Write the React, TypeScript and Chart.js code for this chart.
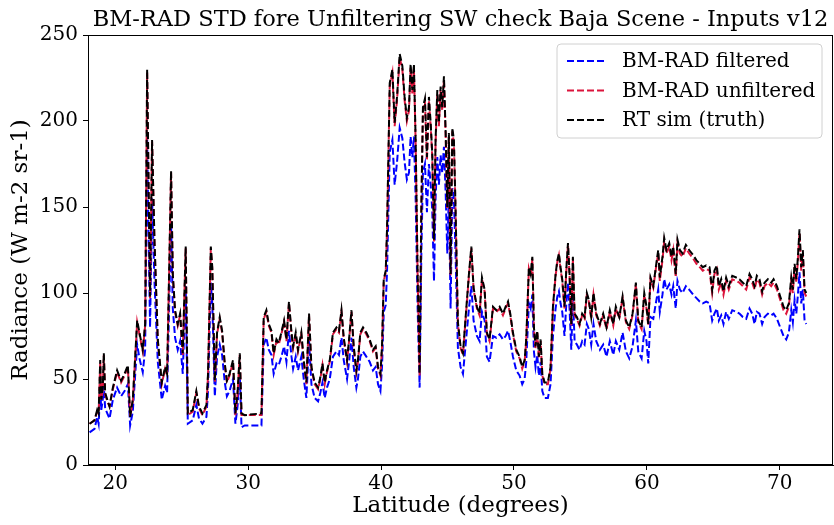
import React, { useEffect, useRef } from "react";
import { Chart, registerables } from "chart.js";

Chart.register(...registerables);

const titleText = "BM-RAD STD fore Unfiltering SW check Baja Scene - Inputs v12";
const xAxisLabel = "Latitude (degrees)";
const yAxisLabel = "Radiance (W m-2 sr-1)";
const seriesNames = ["BM-RAD filtered", "BM-RAD unfiltered", "RT sim (truth)"];
const seriesColors = ["#0000ff", "#dc143c", "#000000"];
const xTicks = [20, 30, 40, 50, 60, 70];
const yTicks = [0, 50, 100, 150, 200, 250];

const latitude = [
  18.07, 18.44, 18.64, 18.75, 18.87, 18.95, 19.06, 19.14, 19.24, 19.40,
  19.57, 19.82, 20.14, 20.44, 20.70, 20.95, 21.12, 21.32, 21.65, 21.82,
  22.07, 22.25, 22.40, 22.53, 22.62, 22.77, 22.95, 23.20, 23.50, 23.75,
  23.90, 24.05, 24.20, 24.33, 24.50, 24.70, 24.88, 25.08, 25.30, 25.46,
  25.83, 26.10, 26.30, 26.56, 26.86, 26.98, 27.19, 27.30, 27.49, 27.66,
  27.86, 28.04, 28.24, 28.40, 28.60, 28.86, 29.04, 29.20, 29.37, 29.50,
  29.74, 31.00, 31.17, 31.37, 31.55, 31.75, 31.92, 32.13, 32.30, 32.50,
  32.70, 32.88, 33.07, 33.26, 33.38, 33.58, 33.75, 34.00, 34.18, 34.38,
  34.58, 34.76, 35.00, 35.26, 35.43, 35.59, 35.76, 35.93, 36.14, 36.38,
  36.64, 36.83, 37.02, 37.19, 37.44, 37.59, 37.77, 37.94, 38.14, 38.26,
  38.44, 38.64, 38.89, 39.14, 39.39, 39.59, 39.77, 39.95, 40.07, 40.20,
  40.35, 40.45, 40.55, 40.65, 40.85, 41.02, 41.20, 41.40, 41.60, 41.77,
  41.94, 42.10, 42.22, 42.35, 42.47, 42.60, 42.75, 42.90, 43.03, 43.15,
  43.30, 43.45, 43.60, 43.73, 43.85, 43.98, 44.10, 44.23, 44.35, 44.48,
  44.60, 44.73, 44.86, 44.98, 45.10, 45.23, 45.36, 45.48, 45.60, 45.78,
  45.98, 46.16, 46.42, 46.61, 46.79, 46.96, 47.21, 47.41, 47.59, 47.79,
  47.96, 48.16, 48.42, 48.67, 48.92, 49.17, 49.37, 49.55, 49.72, 49.92,
  50.17, 50.42, 50.62, 50.80, 50.92, 51.12, 51.25, 51.38, 51.50, 51.62,
  51.75, 51.87, 52.00, 52.13, 52.30, 52.55, 52.75, 52.93, 53.13, 53.26,
  53.38, 53.50, 53.63, 53.80, 53.93, 54.06, 54.18, 54.31, 54.43, 54.56,
  54.73, 54.93, 55.13, 55.31, 55.48, 55.63, 55.81, 55.98, 56.19, 56.46,
  56.71, 56.96, 57.21, 57.47, 57.66, 57.92, 58.17, 58.42, 58.67, 58.92,
  59.17, 59.35, 59.60, 59.80, 59.97, 60.10, 60.27, 60.48, 60.67, 60.85,
  60.97, 61.17, 61.30, 61.47, 61.68, 61.85, 61.98, 62.17, 62.30, 62.48,
  62.68, 62.93, 63.18, 63.48, 63.73, 63.98, 64.20, 64.46, 64.71, 64.91,
  65.08, 65.26, 65.41, 65.59, 65.76, 65.96, 66.16, 66.42, 66.72, 66.96,
  67.22, 67.47, 67.72, 67.92, 68.10, 68.27, 68.47, 68.67, 68.85, 69.10,
  69.35, 69.53, 69.78, 70.03, 70.28, 70.48, 70.68, 70.86, 70.98, 71.11,
  71.24, 71.36, 71.48, 71.61, 71.73, 71.86, 71.99,
];

const bmradFiltered = [
  19, 21, 28, 24, 44, 32, 38, 46, 33, 30,
  27, 38, 45, 40, 43, 47, 23, 31, 70, 62,
  54, 67, 190, 122, 80, 155, 107, 60, 38, 46,
  42, 90, 140, 91, 74, 67, 72, 53, 104, 24,
  26, 35, 27, 24, 28, 43, 106, 94, 40, 63,
  70, 64, 48, 40, 43, 50, 24, 34, 53, 22,
  23, 23, 70, 74, 67, 64, 53, 59, 58, 63,
  69, 60, 78, 63, 56, 63, 55, 63, 50, 39,
  72, 47, 39, 37, 42, 48, 39, 45, 50, 63,
  66, 64, 74, 61, 50, 60, 74, 57, 45, 50,
  63, 66, 63, 60, 55, 57, 47, 43, 57, 89,
  93, 113, 147, 182, 189, 163, 176, 196, 190, 176,
  166, 170, 191, 179, 191, 155, 91, 45, 123, 170,
  175, 147, 175, 163, 148, 107, 155, 179, 163, 180,
  170, 185, 158, 123, 158, 91, 161, 155, 123, 68,
  57, 53, 75, 91, 104, 84, 75, 72, 89, 84,
  63, 60, 75, 74, 76, 73, 75, 78, 72, 63,
  55, 52, 47, 50, 60, 94, 91, 99, 66, 57,
  64, 52, 60, 43, 39, 39, 47, 75, 91, 98,
  101, 94, 89, 75, 93, 106, 91, 67, 99, 72,
  70, 67, 72, 70, 82, 79, 70, 82, 72, 67,
  70, 63, 72, 64, 72, 67, 77, 66, 62, 69,
  84, 66, 62, 78, 72, 59, 86, 85, 94, 102,
  89, 99, 108, 102, 105, 99, 104, 91, 107, 102,
  100, 104, 102, 99, 97, 95, 94, 95, 94, 84,
  88, 91, 84, 87, 82, 89, 85, 90, 89, 88,
  86, 85, 91, 88, 82, 89, 88, 82, 86, 88,
  87, 88, 85, 80, 75, 73, 77, 90, 83, 96,
  88, 99, 112, 94, 102, 84, 82,
];

const bmradUnfiltered = [
  24, 26, 31, 30, 60, 38, 44, 64, 41, 37,
  34, 44, 54, 48, 52, 57, 28, 37, 83, 76,
  66, 81, 228, 149, 97, 188, 130, 72, 47, 56,
  52, 110, 170, 110, 89, 81, 87, 64, 126, 29,
  31, 42, 33, 29, 34, 52, 126, 114, 48, 76,
  85, 77, 58, 48, 52, 60, 29, 41, 64, 29,
  29, 29, 85, 89, 81, 77, 64, 72, 70, 76,
  83, 72, 94, 76, 68, 76, 66, 76, 60, 47,
  87, 56, 47, 44, 50, 58, 47, 54, 60, 76,
  79, 77, 89, 73, 60, 72, 89, 68, 54, 60,
  76, 79, 76, 72, 66, 68, 56, 52, 68, 107,
  112, 137, 178, 220, 228, 197, 212, 237, 230, 212,
  200, 206, 231, 216, 231, 187, 110, 52, 149, 206,
  211, 177, 212, 197, 179, 130, 187, 216, 197, 218,
  206, 224, 191, 149, 191, 110, 194, 187, 149, 82,
  68, 64, 91, 110, 126, 102, 91, 87, 108, 101,
  76, 72, 91, 89, 91, 87, 91, 94, 87, 76,
  66, 62, 56, 60, 72, 114, 110, 120, 79, 68,
  77, 62, 72, 52, 47, 47, 56, 91, 110, 118,
  122, 114, 107, 91, 112, 128, 110, 81, 120, 87,
  85, 81, 87, 85, 99, 95, 85, 99, 87, 81,
  87, 79, 89, 81, 91, 85, 97, 83, 79, 87,
  105, 83, 79, 99, 91, 81, 108, 103, 114, 123,
  107, 119, 130, 123, 127, 119, 125, 109, 129, 123,
  121, 126, 123, 120, 117, 115, 113, 114, 113, 100,
  111, 114, 102, 106, 99, 107, 102, 108, 107, 106,
  104, 102, 109, 106, 102, 108, 106, 99, 104, 106,
  104, 106, 102, 96, 90, 88, 92, 107, 100, 115,
  106, 119, 135, 113, 123, 100, 98,
];

const rtSimTruth = [
  24, 26, 32, 30, 61, 38, 45, 65, 42, 38,
  34, 45, 55, 49, 53, 58, 28, 38, 84, 77,
  67, 82, 230, 150, 98, 189, 131, 73, 48, 57,
  53, 111, 171, 111, 90, 82, 88, 65, 127, 30,
  32, 43, 34, 30, 35, 53, 127, 115, 49, 77,
  86, 78, 59, 49, 53, 61, 30, 42, 65, 30,
  29, 30, 86, 90, 82, 78, 65, 73, 71, 77,
  84, 73, 95, 77, 69, 77, 67, 77, 61, 48,
  88, 57, 48, 45, 51, 59, 48, 55, 61, 77,
  80, 78, 90, 74, 61, 73, 90, 69, 55, 61,
  77, 80, 77, 73, 67, 69, 57, 53, 69, 108,
  113, 138, 179, 222, 230, 199, 214, 239, 232, 214,
  202, 208, 233, 218, 233, 189, 111, 53, 150, 208,
  213, 179, 214, 199, 181, 131, 189, 218, 199, 220,
  208, 226, 193, 150, 193, 111, 196, 189, 150, 83,
  69, 65, 92, 111, 127, 103, 92, 88, 109, 102,
  77, 73, 92, 90, 92, 88, 92, 95, 88, 77,
  67, 63, 57, 61, 73, 115, 111, 121, 80, 69,
  78, 63, 73, 53, 48, 48, 57, 92, 111, 119,
  123, 115, 108, 92, 113, 129, 111, 82, 121, 88,
  86, 82, 88, 86, 100, 96, 86, 100, 88, 82,
  88, 80, 90, 82, 92, 86, 98, 84, 80, 88,
  106, 84, 80, 100, 92, 82, 109, 104, 115, 125,
  109, 121, 132, 125, 129, 121, 127, 111, 131, 125,
  123, 128, 125, 122, 119, 117, 115, 116, 115, 102,
  113, 116, 104, 108, 101, 109, 104, 110, 109, 108,
  106, 104, 111, 108, 104, 110, 108, 101, 106, 108,
  106, 108, 104, 98, 92, 90, 94, 109, 102, 117,
  108, 121, 137, 115, 125, 102, 100,
];

const FONT = "'DejaVu Serif', 'Liberation Serif', serif";

const decorPlugin = {
  id: "decor",
  afterDraw(chart: any) {
    const { ctx, chartArea } = chart;
    const { left, right, top, bottom } = chartArea;
    ctx.save();
    // frame
    ctx.strokeStyle = "#000";
    ctx.lineWidth = 1;
    ctx.setLineDash([]);
    ctx.strokeRect(left + 0.5, top + 0.5, right - left - 1, bottom - top - 1);
    // title
    ctx.fillStyle = "#000";
    ctx.font = `22.5px ${FONT}`;
    ctx.textAlign = "center";
    ctx.textBaseline = "alphabetic";
    ctx.fillText(titleText, (left + right) / 2, top - 9);
    // legend
    const boxW = 265;
    const boxH = 94;
    const bx = right - 11 - boxW;
    const by = top + 9;
    ctx.beginPath();
    const r = 4;
    ctx.moveTo(bx + r, by);
    ctx.lineTo(bx + boxW - r, by);
    ctx.quadraticCurveTo(bx + boxW, by, bx + boxW, by + r);
    ctx.lineTo(bx + boxW, by + boxH - r);
    ctx.quadraticCurveTo(bx + boxW, by + boxH, bx + boxW - r, by + boxH);
    ctx.lineTo(bx + r, by + boxH);
    ctx.quadraticCurveTo(bx, by + boxH, bx, by + boxH - r);
    ctx.lineTo(bx, by + r);
    ctx.quadraticCurveTo(bx, by, bx + r, by);
    ctx.closePath();
    ctx.fillStyle = "rgba(255,255,255,0.8)";
    ctx.fill();
    ctx.strokeStyle = "#d0d0d0";
    ctx.lineWidth = 1;
    ctx.stroke();
    ctx.font = `20px ${FONT}`;
    ctx.textAlign = "left";
    ctx.textBaseline = "middle";
    seriesNames.forEach((name, i) => {
      const yy = by + 17 + i * 29.5;
      ctx.beginPath();
      ctx.setLineDash([7, 3]);
      ctx.strokeStyle = seriesColors[i];
      ctx.lineWidth = 2;
      ctx.moveTo(bx + 10, yy);
      ctx.lineTo(bx + 50, yy);
      ctx.stroke();
      ctx.setLineDash([]);
      ctx.fillStyle = "#000";
      ctx.fillText(name, bx + 65, yy + 1);
    });
    ctx.restore();
  },
};

export default function App() {
  const canvasRef = useRef<HTMLCanvasElement | null>(null);

  useEffect(() => {
    document.body.style.margin = "0";
    const canvas = canvasRef.current;
    if (!canvas) return;
    const seriesValues = [bmradFiltered, bmradUnfiltered, rtSimTruth];
    const chart = new Chart(canvas, {
      type: "line",
      data: {
        datasets: seriesNames.map((name, i) => ({
          label: name,
          data: latitude.map((x, j) => ({ x, y: seriesValues[i][j] })),
          borderColor: seriesColors[i],
          backgroundColor: seriesColors[i],
          borderWidth: 2,
          borderDash: [7, 3],
          pointRadius: 0,
          tension: 0,
          fill: false,
          order: 3 - i,
        })),
      },
      options: {
        responsive: false,
        animation: false,
        events: [],
        layout: { padding: { top: 35, right: 1, left: 0, bottom: 0 } },
        plugins: {
          legend: { display: false },
          title: { display: false },
          tooltip: { enabled: false },
        },
        scales: {
          x: {
            type: "linear",
            min: 17.95,
            max: 74,
            afterBuildTicks: (scale: any) => {
              scale.ticks = xTicks.map((v) => ({ value: v }));
            },
            afterFit: (scale: any) => {
              scale.height = 60;
            },
            ticks: {
              color: "#000",
              font: { family: FONT, size: 20, lineHeight: 1 },
              padding: 4,
              maxRotation: 0,
              callback: (v: any) => String(v),
            },
            grid: {
              drawOnChartArea: false,
              drawTicks: true,
              tickLength: 5,
              color: "#000",
            },
            border: { display: true, color: "#000" },
            title: {
              display: true,
              text: xAxisLabel,
              color: "#000",
              font: { family: FONT, size: 23, lineHeight: 1 },
              padding: { top: 0, bottom: 7 },
            },
          },
          y: {
            type: "linear",
            min: 0,
            max: 250,
            afterBuildTicks: (scale: any) => {
              scale.ticks = yTicks.map((v) => ({ value: v }));
            },
            afterFit: (scale: any) => {
              scale.width = 88;
            },
            ticks: {
              color: "#000",
              font: { family: FONT, size: 20, lineHeight: 1 },
              padding: 5,
              callback: (v: any) => String(v),
            },
            grid: {
              drawOnChartArea: false,
              drawTicks: true,
              tickLength: 5,
              color: "#000",
            },
            border: { display: true, color: "#000" },
            title: {
              display: true,
              text: yAxisLabel,
              color: "#000",
              font: { family: FONT, size: 23, lineHeight: 1 },
              padding: { top: 10, bottom: 0 },
            },
          },
        },
      },
      plugins: [decorPlugin],
    });
    return () => chart.destroy();
  }, []);

  return (
    <div style={{ position: "absolute", left: 0, top: 0, width: 834, height: 525 }}>
      <canvas ref={canvasRef} width={834} height={525} style={{ width: 834, height: 525 }} />
    </div>
  );
}
